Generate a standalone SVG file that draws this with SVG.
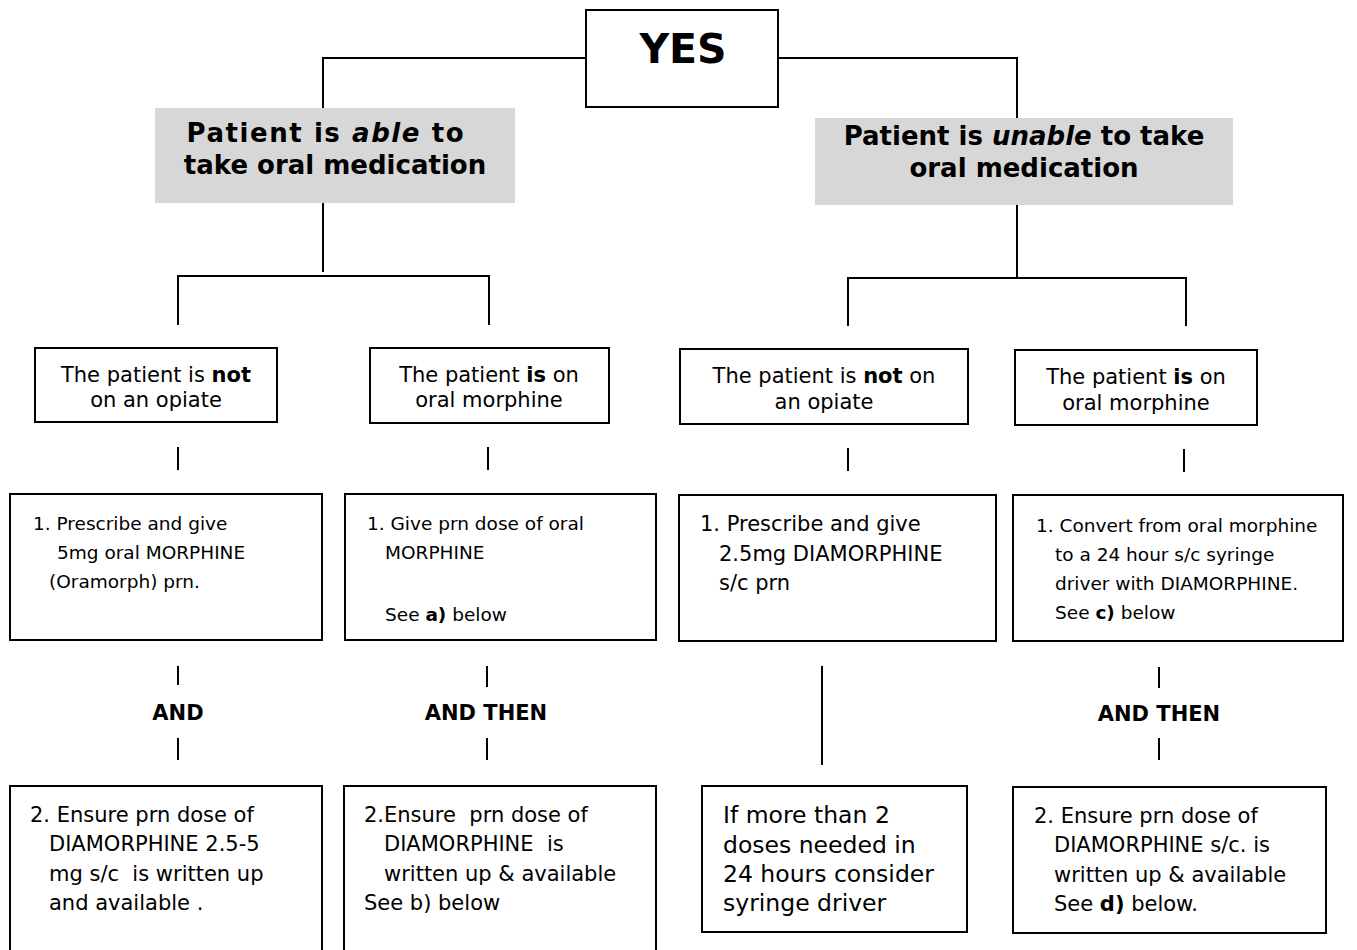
<svg xmlns="http://www.w3.org/2000/svg" width="1357" height="950" viewBox="0 0 1357 950">
<style>
  text { font-family: "DejaVu Sans", Verdana, "Liberation Sans", sans-serif; fill: #000; }
  .box { fill: #fff; stroke: #000; stroke-width: 2; }
  .gray { fill: #d7d7d7; stroke: none; }
  .ln { stroke: #000; stroke-width: 2; fill: none; }
  .t21 { font-size: 21px; }
  .t18 { font-size: 18.5px; }
  .t24 { font-size: 23.5px; }
  .head { font-size: 26px; font-weight: bold; }
  .bold { font-weight: bold; }
  .c { text-anchor: middle; }
</style>
<rect width="1357" height="950" fill="#fff"/>
<g id="connectors">
  <path class="ln" d="M586 58 H323 V108"/>
  <path class="ln" d="M778 58 H1017 V118"/>
  <path class="ln" d="M323 203 V272"/>
  <path class="ln" d="M178 325 V276 H489 V325"/>
  <path class="ln" d="M1017 205 V278"/>
  <path class="ln" d="M848 326 V278 H1186 V326"/>
  <path class="ln" d="M178 447 V470"/>
  <path class="ln" d="M488 447 V470"/>
  <path class="ln" d="M848 448 V471"/>
  <path class="ln" d="M1184 449 V472"/>
  <path class="ln" d="M178 666 V685"/>
  <path class="ln" d="M178 738 V760"/>
  <path class="ln" d="M487 666 V687"/>
  <path class="ln" d="M487 738 V760"/>
  <path class="ln" d="M822 666 V765"/>
  <path class="ln" d="M1159 667 V688"/>
  <path class="ln" d="M1159 738 V760"/>
  <text class="t21 bold c" x="178" y="720">AND</text>
  <text class="t21 bold c" x="486" y="720">AND THEN</text>
  <text class="t21 bold c" x="1159" y="721">AND THEN</text>
</g>
<g id="yes">
  <rect class="box" x="586" y="10" width="192" height="97"/>
  <text class="bold c" x="683" y="63" font-size="41">YES</text>
</g>
<g id="able">
  <rect class="gray" x="155" y="108" width="360" height="95"/>
  <text class="head c" x="325" y="142" textLength="277" lengthAdjust="spacing">Patient is <tspan font-style="italic">able</tspan> to</text>
  <text class="head c" x="335" y="174">take oral medication</text>
</g>
<g id="unable">
  <rect class="gray" x="815" y="118" width="418" height="87"/>
  <text class="head c" x="1024" y="145">Patient is <tspan font-style="italic">unable</tspan> to take</text>
  <text class="head c" x="1024" y="177">oral medication</text>
</g>
<g id="a-not">
  <rect class="box" x="35" y="348" width="242" height="74"/>
  <text class="t21 c" x="156" y="382">The patient is <tspan class="bold">not</tspan></text>
  <text class="t21 c" x="156" y="407">on an opiate</text>
</g>
<g id="a-is">
  <rect class="box" x="370" y="348" width="239" height="75"/>
  <text class="t21 c" x="489" y="382">The patient <tspan class="bold">is</tspan> on</text>
  <text class="t21 c" x="489" y="407">oral morphine</text>
</g>
<g id="u-not">
  <rect class="box" x="680" y="349" width="288" height="75"/>
  <text class="t21 c" x="824" y="383">The patient is <tspan class="bold">not</tspan> on</text>
  <text class="t21 c" x="824" y="409">an opiate</text>
</g>
<g id="u-is">
  <rect class="box" x="1015" y="350" width="242" height="75"/>
  <text class="t21 c" x="1136" y="384">The patient <tspan class="bold">is</tspan> on</text>
  <text class="t21 c" x="1136" y="410">oral morphine</text>
</g>
<g id="step1-a-not">
  <rect class="box" x="10" y="494" width="312" height="146"/>
  <text class="t18" x="33" y="530">1. Prescribe and give</text>
  <text class="t18" x="57" y="559">5mg oral MORPHINE</text>
  <text class="t18" x="49" y="588">(Oramorph) prn.</text>
</g>
<g id="step1-a-is">
  <rect class="box" x="345" y="494" width="311" height="146"/>
  <text class="t18" x="367" y="530">1. Give prn dose of oral</text>
  <text class="t18" x="385" y="559">MORPHINE</text>
  <text class="t18" x="385" y="621">See <tspan class="bold">a)</tspan> below</text>
</g>
<g id="step1-u-not">
  <rect class="box" x="679" y="495" width="317" height="146"/>
  <text class="t21" x="700" y="531">1. Prescribe and give</text>
  <text class="t21" x="719" y="561">2.5mg DIAMORPHINE</text>
  <text class="t21" x="719" y="590">s/c prn</text>
</g>
<g id="step1-u-is">
  <rect class="box" x="1013" y="495" width="330" height="146"/>
  <text class="t18" x="1036" y="532">1. Convert from oral morphine</text>
  <text class="t18" x="1055" y="561">to a 24 hour s/c syringe</text>
  <text class="t18" x="1055" y="590">driver with DIAMORPHINE.</text>
  <text class="t18" x="1055" y="619">See <tspan class="bold">c)</tspan> below</text>
</g>
<g id="step2-a-not">
  <rect class="box" x="10" y="786" width="312" height="180"/>
  <text class="t21" x="30" y="822">2. Ensure prn dose of</text>
  <text class="t21" x="49" y="851">DIAMORPHINE 2.5-5</text>
  <text class="t21" x="49" y="881" xml:space="preserve">mg s/c  is written up</text>
  <text class="t21" x="49" y="910">and available .</text>
</g>
<g id="step2-a-is">
  <rect class="box" x="344" y="786" width="312" height="180"/>
  <text class="t21" x="364" y="822" xml:space="preserve">2.Ensure  prn dose of</text>
  <text class="t21" x="384" y="851" xml:space="preserve">DIAMORPHINE  is</text>
  <text class="t21" x="384" y="881">written up &amp; available</text>
  <text class="t21" x="364" y="910">See b) below</text>
</g>
<g id="step2-u-not">
  <rect class="box" x="702" y="786" width="265" height="146"/>
  <text class="t24" x="723" y="823">If more than 2</text>
  <text class="t24" x="723" y="853">doses needed in</text>
  <text class="t24" x="723" y="882">24 hours consider</text>
  <text class="t24" x="723" y="911">syringe driver</text>
</g>
<g id="step2-u-is">
  <rect class="box" x="1013" y="787" width="313" height="146"/>
  <text class="t21" x="1034" y="823">2. Ensure prn dose of</text>
  <text class="t21" x="1054" y="852">DIAMORPHINE s/c. is</text>
  <text class="t21" x="1054" y="882">written up &amp; available</text>
  <text class="t21" x="1054" y="911">See <tspan class="bold">d)</tspan> below.</text>
</g>
</svg>
